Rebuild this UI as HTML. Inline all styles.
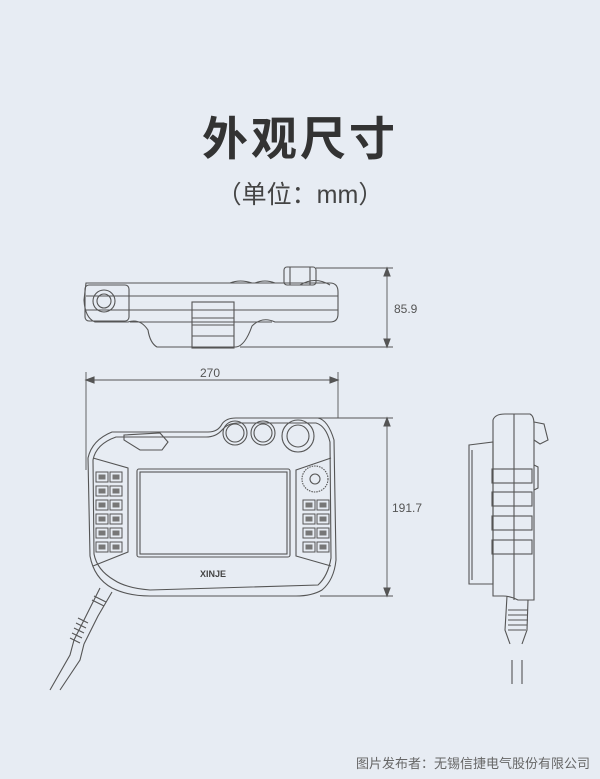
<!DOCTYPE html>
<html><head><meta charset="utf-8"><style>
html,body{margin:0;padding:0;background:#e7ecf3;}
svg{display:block}
</style></head><body>
<svg width="600" height="779" viewBox="0 0 600 779" xmlns="http://www.w3.org/2000/svg">
<defs>
<g id="k"><rect x="0" y="0" width="12" height="10" fill="#e7ecf3" stroke="#555" stroke-width="1"/><rect x="2.5" y="2.5" width="7" height="5" fill="#777"/></g>
</defs>
<rect width="600" height="779" fill="#e7ecf3"/>
<text x="300" y="155" text-anchor="middle" font-family="Liberation Sans,'Noto Sans CJK SC',sans-serif" font-size="46" font-weight="bold" fill="#333" letter-spacing="3">外观尺寸</text>
<text x="300" y="203" text-anchor="middle" font-family="Liberation Sans,'Noto Sans CJK SC',sans-serif" font-size="25" fill="#444">（单位：mm）</text>

<g fill="none" stroke="#555" stroke-width="1.1">
<!-- TOP VIEW -->
<path d="M86 283 L330 283 Q338 283 338 292 L338 314 Q338 322 330 322 L275 322 Q262 316 252 326 Q245 346 236 347 L157 347 Q150 343 148 330 Q140 318 128 322 L95 322 Q85 318 84 300 Z" fill="#e7ecf3"/>
<path d="M86 296 L338 296 M86 310 L338 310 M130 322 L272 322"/>
<rect x="85" y="285" width="44" height="36" rx="4"/>
<circle cx="104" cy="301" r="11"/><circle cx="104" cy="301" r="7"/>
<rect x="192" y="302" width="42" height="46"/>
<path d="M192 318 L234 318 M192 325 L234 325 M192 336 L234 336"/>
<rect x="284" y="267" width="32" height="18" rx="3"/>
<path d="M290 267 L290 285 M310 267 L310 285"/>
<path d="M300 285 Q315 276 330 285"/>
<path d="M230 283 Q240 279 252 283 M255 283 Q265 279 275 283"/>
<path d="M316 268 L393 268 M240 347 L393 347 M387 270 L387 345" stroke-width="0.9"/>
<path d="M387 268 l-3 8 l6 0 z M387 347 l-3 -8 l6 0 z" fill="#555"/>

<!-- FRONT VIEW dimensions -->
<path d="M86 372 L86 470 M338 372 L338 418 M88 380 L336 380 M312 418 L393 418 M320 596 L393 596 M387 420 L387 594" stroke-width="0.9"/>
<path d="M86 380 l8 -3 l0 6 z M338 380 l-8 -3 l0 6 z M387 418 l-3 8 l6 0 z M387 596 l-3 -8 l6 0 z" fill="#555"/>

<!-- FRONT body -->
<path d="M112 432 L208 432 Q218 432 222 424 Q226 418 236 418 L318 418 Q328 420 334 440 L336 560 Q334 580 322 590 Q312 596 296 596 L150 596 Q128 596 112 588 Q94 578 90 556 L88 458 Q92 440 112 432 Z"/>
<path d="M116 437 L206 437 Q216 437 222 430 Q228 423 238 423 L316 423 Q326 426 330 442 L331 558 Q328 576 318 585 L150 590 Q126 588 114 580 Q97 570 94 554 L93 460 Q96 444 116 437 Z"/>
<path d="M124 435 L160 433 L168 442 L162 450 L140 450 L124 440 Z"/>
<rect x="137" y="469" width="153" height="88" rx="2"/>
<rect x="140" y="472" width="147" height="82"/>
<path d="M93 458 L128 468 L128 552 L93 566 M331 458 L296 470 L296 556 L331 566"/>
<circle cx="235" cy="433" r="12"/><circle cx="235" cy="433" r="9"/>
<circle cx="263" cy="433" r="12"/><circle cx="263" cy="433" r="9"/>
<circle cx="298" cy="436" r="16"/><circle cx="298" cy="436" r="11"/>
<circle cx="315" cy="479" r="13" stroke-dasharray="1.5 1"/><circle cx="315" cy="479" r="5"/>
<!-- cable -->
<path d="M100 588 L88 612 L74 640 M112 592 L98 616 L84 644 M74 640 L70 655 L50 690 M84 644 L80 660 L60 690"/>
<path d="M78 618 l10 5 M76 623 l10 5 M74 628 l10 5 M72 633 l10 5 M70 638 l10 5 M92 600 l12 6 M94 596 l12 6"/>

<!-- SIDE VIEW -->
<path d="M493 420 Q495 414 505 414 L530 414 Q534 416 534 424 L534 600 L518 600 Q510 596 503 596 L493 596 Z"/>
<path d="M469 445 L493 442 L493 584 L469 584 Z M472 450 L472 580"/>
<path d="M534 422 L544 424 L548 440 L540 444 L534 440"/>
<path d="M514 414 L514 600" />
<rect x="492" y="469" width="40" height="14"/>
<rect x="492" y="492" width="40" height="14"/>
<rect x="492" y="516" width="40" height="14"/>
<rect x="492" y="540" width="40" height="14"/>
<path d="M534 465 L538 467 L538 488 L534 490"/>
<path d="M507 596 L505 630 L510 644 M528 600 L527 630 L522 644 M508 610 l20 0 M508 615 l20 0 M508 620 l20 0 M508 625 l19 0 M508 630 l18 0"/>
<path d="M512 660 L512 684 M522 660 L522 684"/>
</g>
<!-- keypads -->
<use href="#k" x="96" y="472"/><use href="#k" x="110" y="472"/>
<use href="#k" x="96" y="486"/><use href="#k" x="110" y="486"/>
<use href="#k" x="96" y="500"/><use href="#k" x="110" y="500"/>
<use href="#k" x="96" y="514"/><use href="#k" x="110" y="514"/>
<use href="#k" x="96" y="528"/><use href="#k" x="110" y="528"/>
<use href="#k" x="96" y="542"/><use href="#k" x="110" y="542"/>
<use href="#k" x="303" y="500"/><use href="#k" x="317" y="500"/>
<use href="#k" x="303" y="514"/><use href="#k" x="317" y="514"/>
<use href="#k" x="303" y="528"/><use href="#k" x="317" y="528"/>
<use href="#k" x="303" y="542"/><use href="#k" x="317" y="542"/>

<g font-family="Liberation Sans,sans-serif" fill="#555" font-size="12">
<text x="200" y="377">270</text>
<text x="394" y="313">85.9</text>
<text x="392" y="512">191.7</text>
</g>
<text x="213" y="577" text-anchor="middle" font-family="Liberation Sans,sans-serif" font-size="9" font-weight="bold" fill="#444">XINJE</text>
<text x="590" y="768" text-anchor="end" font-family="Liberation Sans,'Noto Sans CJK SC',sans-serif" font-size="13" fill="#666">图片发布者：无锡信捷电气股份有限公司</text>
</svg>
</body></html>
